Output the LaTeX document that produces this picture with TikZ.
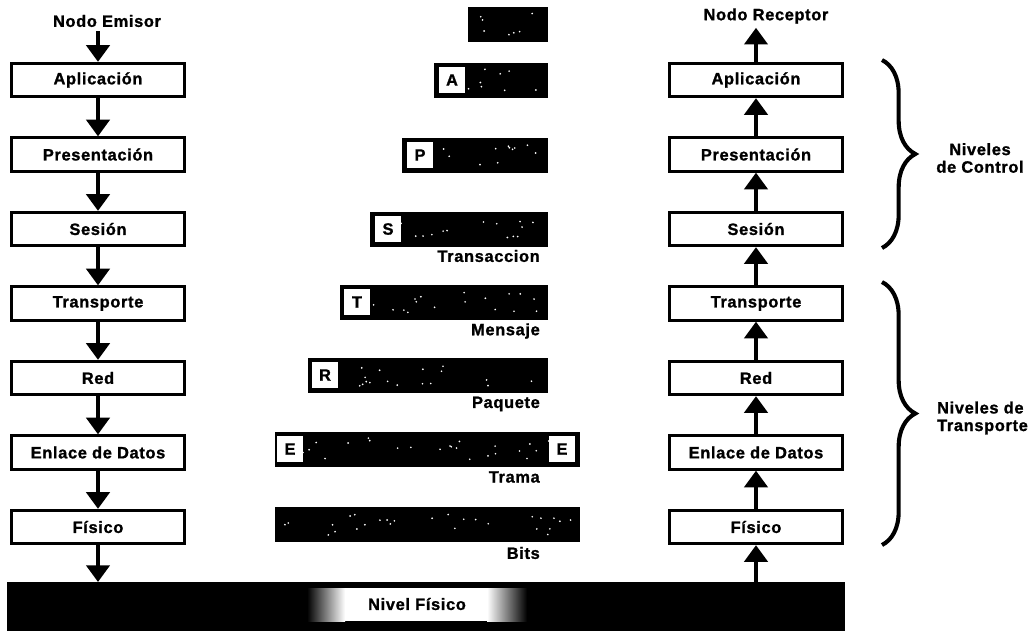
\documentclass[tikz,border=0pt]{standalone}
\usepackage{fontspec}
\setmainfont{Liberation Sans}[LetterSpace=4,BoldFeatures={FakeBold=1.2}]
\usetikzlibrary{arrows.meta,decorations.pathreplacing,positioning}

\begin{document}
\begin{tikzpicture}[x=0.03cm,y=-0.03cm,
    every node/.style={font=\fontsize{14}{15}\selectfont\bfseries},
    capa/.style={draw,line width=2.5pt,fill=white,minimum width=5.2cm,minimum height=1cm,inner sep=0pt},
    flecha/.style={line width=3.5pt,-{Triangle[width=0.69cm,length=0.5cm]}},
    letra/.style={fill=white,minimum size=0.78cm,inner sep=0pt},
    etiq/.style={anchor=east,inner sep=0pt},
    llave/.style={decorate,decoration={brace,amplitude=1cm},line width=3.5pt}]
        \useasboundingbox (0,0) rectangle (1033,630);
        \pgfmathsetseed{12}

        \node (emisor) at (107,21) {Nodo Emisor};
        \node (receptor) at (766,16) {Nodo Receptor};

        % niveles de los dos nodos
        \foreach \n/\txt [count=\i from 0] in {ap/Aplicación, pr/Presentación, se/Sesión, tr/Transporte, re/Red, en/Enlace de Datos, fi/Físico} {
            \node[capa] (\n E) at (98,{80+74.5*\i}) {\txt};
            \node[capa] (\n R) at (756,{80+74.5*\i}) {\txt};
        }

        % medio fisico
        \node[fill=black,minimum width=25.14cm,minimum height=1.5cm,inner sep=0pt,anchor=north west] (medio) at (7,582) {};
        \fill[white] (345,588) rectangle (487,621);
        \shade[left color=black,right color=white] (307,588) rectangle (345,621);
        \shade[left color=white,right color=black] (487,588) rectangle (527,621);
        \node (nivel) at (417,604) {Nivel Físico};

        % flechas
        \draw[flecha] (emisor.south -| apE.north) -- (apE);
        \foreach \a/\b in {apE/prE, prE/seE, seE/trE, trE/reE, reE/enE, enE/fiE}
            \draw[flecha] (\a) -- (\b);
        \draw[flecha] (fiE) -- (fiE |- medio.north);
        \draw[flecha] (fiR |- medio.north) -- (fiR);
        \foreach \a/\b in {fiR/enR, enR/reR, reR/trR, trR/seR, seR/prR, prR/apR}
            \draw[flecha] (\a) -- (\b);
        \draw[flecha] (apR) -- (apR |- receptor.south);

        % tramas con sus cabeceras
        \foreach \y/\xa/\xb in {24/468/548, 80/434/548, 155/402/548, 229/370/548, 302/340/548, 375/308/548, 449/275/580, 524/275/580} {
            \fill (\xa,\y-17.5) rectangle (\xb,\y+17.5);
            \pgfmathtruncatemacro{\num}{(\xb-\xa)/11}
            \foreach \k in {1,...,\num}
                \fill[white] ({\xa+8+rnd*(\xb-\xa-16)},{\y-11+rnd*22}) circle (0.8pt);
        }
        \node[letra] (cabA) at (452,80) {A};
        \node[letra] (cabP) at (420,155) {P};
        \node[letra] (cabS) at (388,229) {S};
        \node[letra] (cabT) at (357,302) {T};
        \node[letra] (cabR) at (325,375) {R};
        \node[letra] (cabE) at (290,449) {E};
        \node[letra] (colE) at (562,449) {E};

        \node[etiq] (transac) at (540,256) {Transaccion};
        \node[etiq] (mensaje) at (540,331) {Mensaje};
        \node[etiq] (paquete) at (540,404) {Paquete};
        \node[etiq] (trama) at (540,477) {Trama};
        \node[etiq] (bits) at (540,553) {Bits};

        % agrupaciones
        \draw[llave] (882,60) -- (882,248);
        \draw[llave] (882,282) -- (882,545);
        \node[align=center] (control) at (980,158) {Niveles\\de Control};
        \node[align=left,anchor=west] (transp) at (933,418) {Niveles de\\Transporte};
    \end{tikzpicture}
\end{document}
